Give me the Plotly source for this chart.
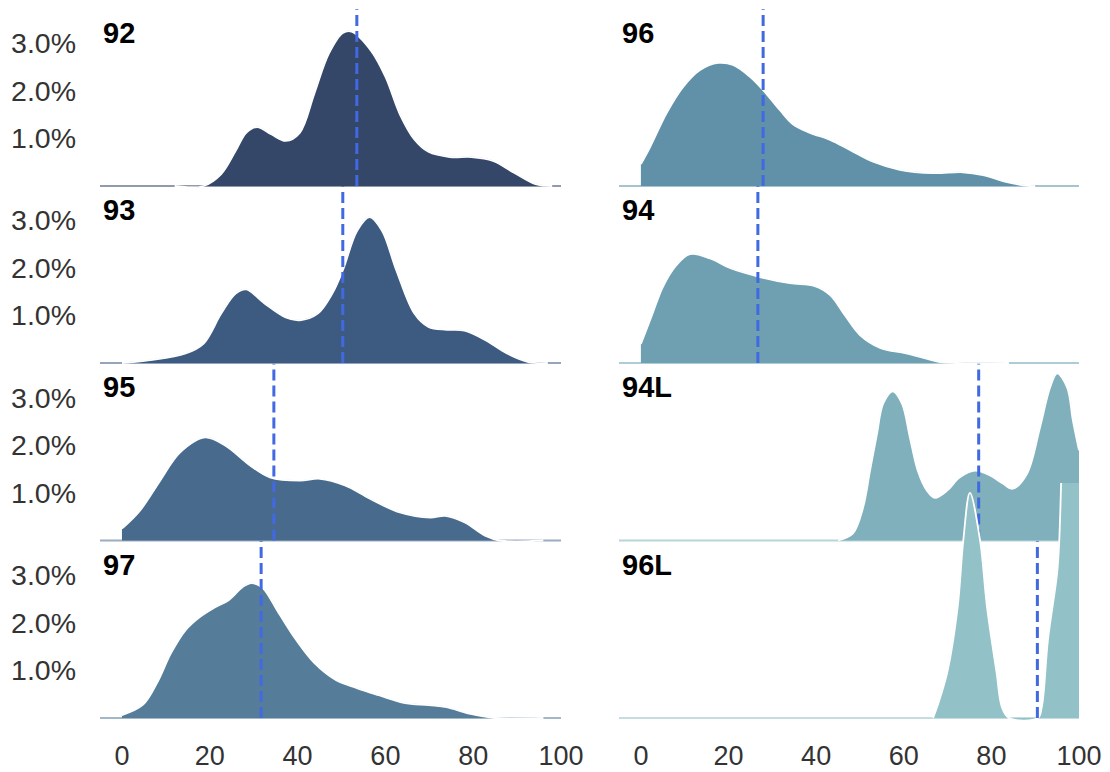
import plotly.graph_objects as go

W, H = 1110, 772

# ---------------- data (values in percent) ----------------
names = ["92", "93", "95", "97", "96", "94", "94L", "96L"]
colors = ["#344768", "#3d5a80", "#486a8c", "#557d99",
          "#6091a8", "#6ea0b2", "#80b0bc", "#92c1c8"]
means = [53.5, 50.3, 34.6, 31.7, 27.9, 26.7, 77.1, 90.5]

x92 = [12, 18.6, 22.6, 25.9, 28.3, 30.8, 34, 37.3, 40.5, 43.8, 47.1, 50.3, 52.3,
       56.8, 60.1, 63.3, 66.6, 69.8, 74.7, 79.6, 84.5, 89.3, 94.2, 98]
y92 = [0, 0, 0.25, 0.74, 1.12, 1.24, 1.09, 0.95, 1.12, 1.94, 2.78, 3.22, 3.25,
       2.84, 2.28, 1.51, 0.98, 0.72, 0.61, 0.61, 0.53, 0.28, 0.04, 0]

x93 = [0, 6.4, 14.5, 18.6, 22.6, 25.9, 28.3, 32.4, 37.3, 40.5, 44.6, 47.9, 50.3,
       53.6, 56.4, 59.2, 62.5, 66.6, 69.8, 74, 78, 82.8, 87.7, 92.6, 97]
y93 = [0, 0.06, 0.2, 0.41, 1.04, 1.46, 1.55, 1.26, 0.96, 0.90, 1.04, 1.46, 1.95,
       2.79, 3.07, 2.79, 1.95, 1.04, 0.76, 0.70, 0.68, 0.48, 0.2, 0.02, 0]

x95 = [0, 4.1, 8.7, 13.2, 18.9, 23.5, 29.2, 33.7, 40.5, 45.1, 50.8, 56.5, 63.3,
       70.2, 73.6, 78.1, 82.7, 86, 96]
y95 = [0.25, 0.63, 1.26, 1.85, 2.17, 2.0, 1.58, 1.33, 1.26, 1.3, 1.16, 0.88, 0.59,
       0.48, 0.52, 0.38, 0.1, 0, 0]

x97 = [0, 4.8, 8, 11.2, 14.5, 17.8, 21, 24.3, 27.5, 29.5, 32, 35.7, 39.7, 43.8,
       48.7, 53.5, 58.5, 64.2, 69.9, 73.9, 78.8, 83.4, 85, 96]
y97 = [0.06, 0.28, 0.74, 1.37, 1.85, 2.13, 2.32, 2.48, 2.76, 2.84, 2.74, 2.21,
       1.64, 1.16, 0.80, 0.63, 0.48, 0.32, 0.27, 0.23, 0.10, 0.02, 0, 0]

x96 = [0, 2.1, 5.9, 9.6, 13.5, 17.6, 21, 24.9, 27.9, 31.7, 34.7, 38.6, 43.2, 47.7,
       53, 59.1, 66.7, 73.5, 78.1, 83.6, 88.8, 90]
y96 = [0.46, 0.82, 1.54, 2.08, 2.44, 2.59, 2.55, 2.30, 2.02, 1.60, 1.30, 1.12,
       0.97, 0.76, 0.51, 0.34, 0.27, 0.29, 0.23, 0.08, 0, 0]

x94 = [0, 2.5, 5, 8, 11.2, 15.8, 20.3, 27.2, 34, 39.7, 43.2, 46.6, 50, 54.6,
       60.3, 63.7, 68.3, 72, 84]
y94 = [0.4, 1.0, 1.6, 2.05, 2.29, 2.2, 2.0, 1.81, 1.68, 1.62, 1.43, 1.0, 0.59,
       0.32, 0.21, 0.13, 0.02, 0, 0]

x94L = [45, 48.4, 50.7, 52.3, 53.9, 55.3, 57.5, 59.6, 61.4, 63.2, 65.3, 67.1,
        69.9, 72.8, 76.3, 79.7, 82.6, 84.9, 88.1, 91.1, 93.4, 95, 97.3, 98.6, 100]
y94L = [0, 0.15, 0.69, 1.47, 2.25, 2.88, 3.14, 2.88, 2.17, 1.47, 1.05, 0.90,
        1.05, 1.33, 1.47, 1.37, 1.20, 1.09, 1.40, 2.38, 3.22, 3.52, 3.22, 2.53, 1.9]

x96L = [66.7, 67.6, 69.9, 72.3, 73.6, 75.1, 77.4, 79, 81.2, 82.4, 84, 90.6,
        91.5, 92.9, 95, 95.5, 96.5, 98, 100]
y96L = [0, 0.23, 0.95, 2.34, 3.75, 4.74, 3.75, 2.34, 0.95, 0.23, 0, 0,
        0.23, 1.64, 3.05, 3.75, 7, 11, 15]

series_x = [x92, x93, x95, x97, x96, x94, x94L, x96L]
series_y = [y92, y93, y95, y97, y96, y94, y94L, y96L]

x_ticks = [0, 20, 40, 60, 80, 100]
y_ticks = [1, 2, 3]

# ---------------- layout geometry (pixels) ----------------
baselines = [186, 363, 540.5, 718]
px_per_pct = 47.5
overflow_px = 235          # how far a panel may draw above its baseline
pad_px = 4                 # room below baseline so the baseline is not clipped
col_px = [(100, 561), (619, 1079)]
XR = [-5, 100]
dash_top_pct = 3.72

FONT = "Liberation Sans, Arial, sans-serif"


def hex_rgba(h, a):
    h = h.lstrip("#")
    r, g, b = int(h[0:2], 16), int(h[2:4], 16), int(h[4:6], 16)
    return f"rgba({r},{g},{b},{a})"


fig = go.Figure()
layout = dict(
    width=W, height=H,
    margin=dict(l=0, r=0, t=0, b=0),
    paper_bgcolor="white", plot_bgcolor="rgba(0,0,0,0)",
    showlegend=False,
    annotations=[],
)

for i, name in enumerate(names):
    col = i // 4
    row = i % 4
    k = i + 1
    xa = "x" if k == 1 else f"x{k}"
    ya = "y" if k == 1 else f"y{k}"
    b = baselines[row]
    top_px = max(0.0, b - overflow_px)
    bot_px = b + pad_px
    ydom = [1 - bot_px / H, 1 - top_px / H]
    yr = [-(pad_px / px_per_pct) / 100, ((b - top_px) / px_per_pct) / 100]
    xdom = [col_px[col][0] / W, col_px[col][1] / W]

    c = colors[i]
    xs = series_x[i]
    ys = [v / 100 for v in series_y[i]]

    # baseline
    fig.add_trace(go.Scatter(x=XR, y=[0, 0], mode="lines",
                             line=dict(color=hex_rgba(c, 0.55), width=2),
                             xaxis=xa, yaxis=ya, hoverinfo="skip"))
    # density fill
    fig.add_trace(go.Scatter(x=xs, y=ys, mode="lines", fill="tozeroy",
                             fillcolor=c, line=dict(color=c, width=0.5, shape="spline", smoothing=1.0),
                             xaxis=xa, yaxis=ya, hoverinfo="skip"))
    # white outline
    fig.add_trace(go.Scatter(x=xs, y=ys, mode="lines",
                             line=dict(color="white", width=1.8, shape="spline", smoothing=1.0),
                             xaxis=xa, yaxis=ya, hoverinfo="skip"))
    # dashed mean line
    fig.add_trace(go.Scatter(x=[means[i], means[i]], y=[0, dash_top_pct / 100], mode="lines",
                             line=dict(color="#4169e1", width=3, dash="11px,5px"),
                             xaxis=xa, yaxis=ya, hoverinfo="skip"))

    layout["xaxis" if k == 1 else f"xaxis{k}"] = dict(
        domain=xdom, range=XR, anchor=ya, showgrid=False, zeroline=False,
        showline=False, ticks="", automargin=False,
        tickvals=x_ticks, showticklabels=(row == 3),
        tickfont=dict(family=FONT, size=27, color="#333333"),
        ticklabelstandoff=15,
    )
    layout["yaxis" if k == 1 else f"yaxis{k}"] = dict(
        domain=ydom, range=yr, anchor=xa, showgrid=False, zeroline=False,
        showline=False, ticks="", automargin=False,
        tickvals=[t / 100 for t in y_ticks], tickformat=".1%",
        showticklabels=(col == 0),
        tickfont=dict(family=FONT, size=28.5, color="#333333"),
        ticklabelstandoff=23,
    )
    layout["annotations"].append(dict(
        text=f"<b>{name}</b>", xref="paper", yref="paper",
        x=(col_px[col][0] + 1) / W, y=1 - (b - 171) / H,
        xanchor="left", yanchor="top", showarrow=False,
        font=dict(family=FONT, size=29, color="black"),
    ))

fig.update_layout(**layout)
fig.write_html("out.html")
